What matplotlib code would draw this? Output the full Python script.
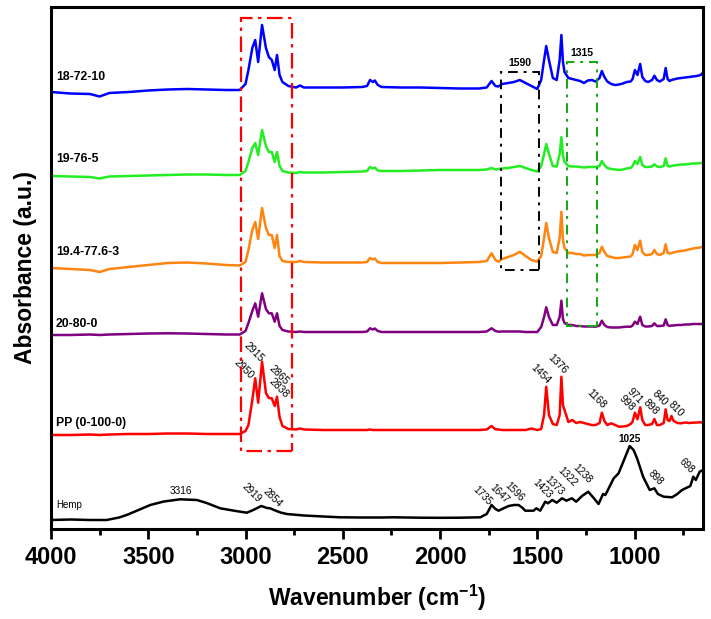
import matplotlib
matplotlib.use('Agg')
import matplotlib.pyplot as plt
from matplotlib.patches import Rectangle
import numpy as np

plt.rcParams['font.family'] = ['Liberation Sans', 'DejaVu Sans']
plt.rcParams['mathtext.fontset'] = 'custom'
plt.rcParams['mathtext.rm'] = 'Liberation Sans'
plt.rcParams['mathtext.bf'] = 'Liberation Sans:bold'

# shared wavenumber grid (cm-1) for the PP and blend spectra
wn = [4000, 3900, 3800, 3750, 3700, 3600, 3500, 3400, 3300, 3200,
      3100, 3030, 3000, 2985, 2965, 2950, 2935, 2915, 2895, 2880,
      2865, 2850, 2838, 2825, 2810, 2780, 2740, 2720, 2700, 2600,
      2500, 2400, 2375, 2360, 2345, 2335, 2320, 2300, 2200, 2100,
      2000, 1900, 1800, 1760, 1735, 1715, 1700, 1680, 1650, 1620,
      1590, 1560, 1530, 1500, 1480, 1465, 1454, 1440, 1420, 1400,
      1385, 1376, 1368, 1360, 1340, 1320, 1300, 1280, 1260, 1240,
      1220, 1200, 1180, 1168, 1155, 1140, 1120, 1100, 1080, 1060,
      1040, 1020, 1010, 998, 985, 971, 960, 945, 930, 910,
      898, 885, 870, 850, 840, 830, 820, 810, 800, 780,
      760, 740, 720, 700, 680, 660, 650]

abs_18_72_10 = [0, -1.5, -2, -4.5, -1, 0, 1.5, 2.5, 3, 2.5,
                2, 2, 8, 22, 44, 52, 30, 67, 44, 35,
                32, 22, 37, 17, 10, 6, 4.5, 6.5, 4.5, 4.5,
                4.5, 5, 6, 12, 10, 11.5, 7, 5, 4.5, 4.5,
                4, 3.5, 3.5, 4.5, 11, 6, 5.5, 8, 9, 10,
                12, 9, 6, 3, 12, 32, 46, 32, 14, 12,
                32, 57, 30, 20, 14, 13, 12, 11, 9, 11.5,
                12, 10.5, 14, 21, 15, 10.5, 8, 7, 7.5, 8.5,
                10, 10.5, 13, 22, 17, 28, 15, 11, 10, 12,
                16.3, 12, 10.5, 13, 24, 13, 11, 12, 12.5, 13.5,
                14, 14.5, 15, 15.5, 16, 17, 19]

abs_19_76_5 = [0, -0.5, -1, -2.5, -0.5, 0, 0.5, 1, 1.5, 1.5,
               1, 1, 5, 14, 28, 33, 21, 46, 30, 24,
               24, 14, 24, 10, 5, 3.5, 3, 4, 3.5, 3.5,
               4, 4.5, 5, 9, 7.5, 8.5, 5.5, 5, 5, 5.5,
               6, 6, 6, 6.5, 8, 6.5, 7, 7.5, 8, 9,
               10, 8, 6, 4.5, 10, 22, 32, 22, 10, 9.5,
               22, 39, 20, 14, 10, 9.5, 9.5, 9, 8.5, 9,
               9, 9, 10, 15, 11, 8, 7, 6.5, 6, 6.5,
               7.5, 8, 10, 15, 12, 19, 11, 9, 9, 9.5,
               11.7, 9.5, 9, 10, 17.7, 10, 9.5, 10, 10.5, 11,
               11.5, 11.5, 12, 12.5, 12.5, 13, 13]

abs_19_4 = [0, -1, -2, -4, -1, 1, 3, 5, 5.5, 4.5,
            3, 2.5, 6, 18, 38, 46, 29, 60, 40, 33,
            33, 20, 33, 12, 7, 6, 6, 7, 6, 5.5,
            5.5, 5.5, 6, 10, 8.5, 9.5, 6, 5, 5, 5,
            5, 5.5, 6, 7, 14.7, 8, 6.3, 9, 11, 13,
            16.3, 12, 8, 6.3, 12, 30, 45, 30, 16, 15,
            30, 56.3, 28, 20, 15, 15, 14, 14, 12.5, 13,
            13, 13, 15, 21.3, 16, 12, 11, 10, 10, 10.5,
            11, 11.5, 14, 23, 18, 27.3, 16, 13, 13, 14,
            18, 14, 13, 15, 23.7, 15, 14.5, 15, 15.5, 16.5,
            17, 17.5, 18.5, 19.5, 20, 20.7, 21]

abs_20_80_0 = [0, 0, 0.5, 0, 0.5, 1, 1.5, 1.7, 1.5, 1,
               0.5, 0.5, 4, 12, 24, 31.7, 18.3, 41.7, 26, 21.7,
               21.7, 13.3, 21.7, 9, 5, 3.5, 3, 3.5, 3, 3,
               3, 3, 3.5, 6.7, 5.5, 6.5, 4, 3, 3, 3,
               3, 3, 3, 3.5, 6.7, 4, 3.3, 3.5, 3.5, 3.5,
               3.5, 3, 3, 3, 8, 18, 27.7, 18, 10, 10,
               18, 34.3, 16, 12, 10, 10, 9, 9, 8.5, 8.5,
               8.5, 8.3, 9.5, 14.3, 10, 8, 7.5, 7.5, 7.5, 8,
               8.3, 8.3, 9.5, 13.3, 11, 18.3, 10, 8.5, 8.5, 9,
               11.7, 9, 9, 9.5, 15.7, 10, 9, 9.5, 9.5, 10,
               10, 10.5, 10.5, 11, 11, 11, 11]

abs_pp = [0, 0, 0.5, 0, 0.5, 1, 1, 1.5, 1.5, 1,
          1, 1, 4, 10, 35, 56.7, 32.3, 73.3, 42, 37,
          36.7, 29, 38.3, 18, 9, 6, 5.5, 6.5, 5.5, 5,
          5, 5, 5, 5.5, 5, 5, 5, 5, 5, 5,
          5, 5, 5, 5.5, 9, 5.7, 5.5, 5, 5, 5,
          5, 5, 6.5, 5, 6, 20, 48.3, 20, 11, 10,
          20, 58.3, 30, 25, 13, 15, 12, 13, 12, 11,
          10, 10, 12, 22.3, 14, 10, 11.7, 10, 8.3, 8.5,
          9, 11, 13.3, 22.3, 15.7, 27.7, 15, 10, 10, 11,
          16, 10, 10, 12, 25.7, 15, 14, 19, 14.3, 12,
          11.7, 12.5, 12, 12.3, 12.5, 12.7, 12.5]

# hemp has its own grid
wn_hemp = [4000, 3900, 3800, 3714, 3650, 3611, 3550, 3490, 3420, 3336,
           3250, 3200, 3130, 3050, 2993, 2960, 2919, 2890, 2873, 2854,
           2820, 2788, 2700, 2600, 2513, 2400, 2300, 2240, 2102, 2000,
           1900, 1793, 1760, 1735, 1715, 1699, 1670, 1647, 1620, 1596,
           1575, 1562, 1519, 1505, 1485, 1459, 1445, 1423, 1400, 1373,
           1350, 1322, 1300, 1270, 1238, 1210, 1185, 1162, 1150, 1107,
           1082, 1050, 1025, 1005, 987, 956, 922, 898, 880, 850,
           807, 780, 756, 713, 698, 685, 665, 648]
abs_hemp = [0, 0.5, 0, 0, 2.5, 5, 10, 15, 18.5, 20.7,
            20, 17, 11.7, 9, 7.3, 10, 14, 12, 11.7, 10,
            7.5, 6, 4.5, 3.5, 2.7, 2.5, 2.5, 2.7, 2.3, 2.2,
            2.3, 2.7, 6, 15, 11, 9.3, 12, 14, 15, 15,
            12, 9.3, 9.3, 11.7, 9.3, 18.3, 16.7, 20, 17.3, 21.7,
            19.3, 21.7, 18.3, 24, 28.3, 22, 16, 26, 25, 41.7,
            46.7, 62, 74, 70, 61.7, 43.3, 30, 31.7, 26, 23.3,
            22.7, 26, 30, 34, 43.3, 40, 48.3, 50]

names = ['18-72-10', '19-76-5', '19.4-77.6-3', '20-80-0', 'PP (0-100-0)', 'Hemp']
spectra = [abs_18_72_10, abs_19_76_5, abs_19_4, abs_20_80_0, abs_pp, abs_hemp]
grids = [wn, wn, wn, wn, wn, wn_hemp]
offsets = [437, 353, 261, 194, 94, 9]
colors = ['#0000FF', '#22EE22', '#FF8410', '#800080', '#FF0000', '#000000']
label_gap = [15, 16.5, 16, 11, 12, 15]

# peak labels: text, wavenumber, dx, dy (pixels)
pp_peaks = [('2950', 2950, -11, 9), ('2915', 2915, -8, 10), ('2865', 2865, 7, 23),
            ('2838', 2838, 2, 9), ('1454', 1454, -6, 13), ('1376', 1376, -4, 13),
            ('1168', 1168, -5.5, 14), ('998', 998, -8, 10), ('971', 971, -5, 11),
            ('898', 898, -4, 12), ('840', 840, -6, 11), ('810', 810, 4, 7)]
hemp_peaks = [('3316', 3316, -3, 8.5, 0, 'normal'), ('2919', 2919, -9.4, 12.7, -45, 'normal'),
              ('2854', 2854, -1, 12, -45, 'normal'), ('1735', 1735, -9, 9, -45, 'normal'),
              ('1647', 1647, -9, 12, -45, 'normal'), ('1596', 1596, -4, 13, -45, 'normal'),
              ('1423', 1423, -10, 11, -45, 'normal'), ('1373', 1373, -8, 12.6, -45, 'normal'),
              ('1322', 1322, -4.6, 21, -45, 'normal'), ('1238', 1238, -6, 18, -45, 'normal'),
              ('1025', 1025, 0, 7, 0, 'bold'), ('898', 898, 1, 11, -45, 'normal'),
              ('698', 698, -6.6, 10.7, -45, 'normal')]

# highlight boxes: (wn_left, wn_right, y_bottom, y_top, colour, label)
boxes = [(3023, 2760, 78, 511, '#FF0000', None),
         (1685, 1490, 259, 457, '#000000', '1590'),
         (1346, 1191, 203, 467, '#11AA11', '1315')]

fig = plt.figure(figsize=(7.11, 6.19), dpi=100)
ax = fig.add_axes([51 / 711, 1 - 529 / 619, 652 / 711, 522 / 619])

for name, x, y, off, c, gap in zip(names, grids, spectra, offsets, colors, label_gap):
    yy = np.array(y) + off
    ax.plot(x, yy, color=c, lw=1.8)
    bold = 'normal' if name == 'Hemp' else 'bold'
    fs = 7 if name == 'Hemp' else 8.8
    ax.text(3975, off + gap, name, ha='left', va='center', fontsize=fs,
            fontweight=bold, color='black')

pp_x = np.array(wn)[::-1]
pp_y = np.array(abs_pp)[::-1] + offsets[4]
for t, w, dx, dy in pp_peaks:
    ax.annotate(t, (w, np.interp(w, pp_x, pp_y)), xytext=(dx, dy),
                textcoords='offset pixels', ha='center', va='center',
                rotation=-45, fontsize=7.5)

h_x = np.array(wn_hemp)[::-1]
h_y = np.array(abs_hemp)[::-1] + offsets[5]
for t, w, dx, dy, rot, fw in hemp_peaks:
    ax.annotate(t, (w, np.interp(w, h_x, h_y)), xytext=(dx, dy),
                textcoords='offset pixels', ha='center', va='center',
                rotation=rot, fontsize=7.2, fontweight=fw)

for x0, x1, y0, y1, c, lab in boxes:
    lw = 1.6 if lab is None else 1.4
    dash = (0, (7, 2.5, 1.5, 2.5)) if lab is None else (0, (5, 3, 1.5, 3))
    ax.add_patch(Rectangle((x1, y0), x0 - x1, y1 - y0, fill=False,
                           edgecolor=c, lw=lw, linestyle=dash, zorder=3))
    if lab:
        ax.text((x0 + x1) / 2, y1 + 9, lab, ha='center', va='center',
                fontsize=7.5, fontweight='bold')

ax.set_xlim(4000, 648)
ax.set_ylim(0, 522)
ax.set_xticks([4000, 3500, 3000, 2500, 2000, 1500, 1000])
ax.set_xticks(np.arange(3750, 649, -500), minor=True)
ax.set_yticks([])
ax.tick_params(axis='x', which='major', direction='out', length=7, width=2,
               labelsize=17, pad=5)
ax.tick_params(axis='x', which='minor', direction='out', length=4, width=2)
for lab in ax.get_xticklabels():
    lab.set_fontweight('bold')
for s in ax.spines.values():
    s.set_linewidth(2.2)

ax.set_xlabel(r'Wavenumber (cm$^{\mathbf{-1}}$)', fontsize=16.5,
              fontweight='bold', labelpad=10)
ax.set_ylabel('Absorbance (a.u.)', fontsize=16.5, fontweight='bold', labelpad=10)

fig.savefig('out.png', dpi=100)
